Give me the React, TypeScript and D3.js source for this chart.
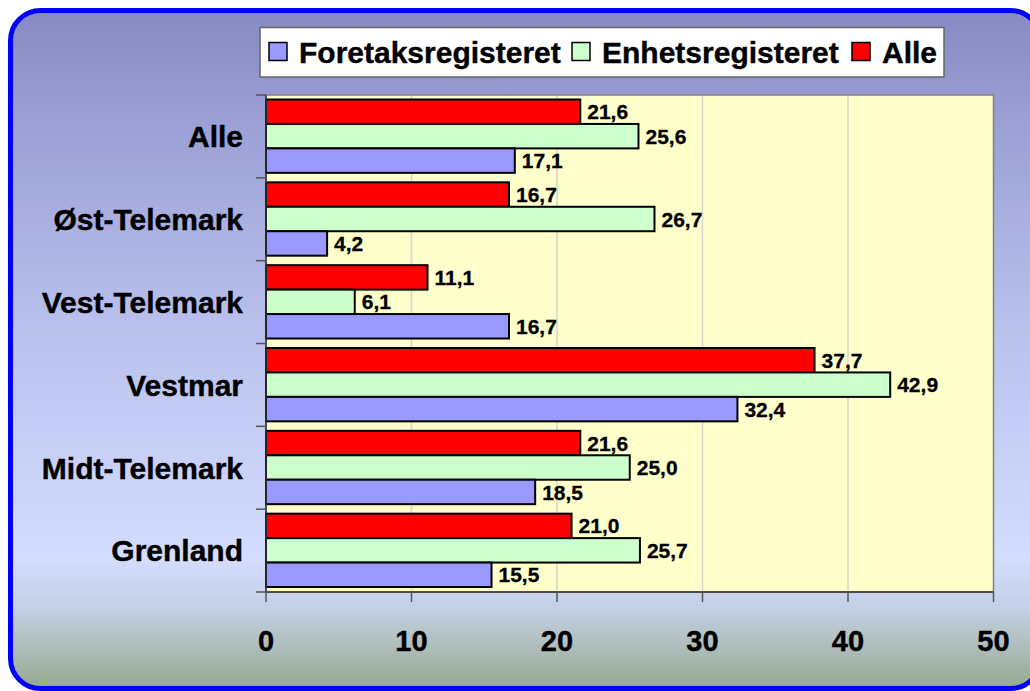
import React from "react";
import * as d3 from "d3";

const categories = ["Alle", "Øst-Telemark", "Vest-Telemark", "Vestmar", "Midt-Telemark", "Grenland"];
const seriesNames = ["Alle", "Enhetsregisteret", "Foretaksregisteret"];
const alleValues = [21.6, 16.7, 11.1, 37.7, 21.6, 21.0];
const enhetsValues = [25.6, 26.7, 6.1, 42.9, 25.0, 25.7];
const foretakValues = [17.1, 4.2, 16.7, 32.4, 18.5, 15.5];
const xTicks = [0, 10, 20, 30, 40, 50];
const legendItems = ["Foretaksregisteret", "Enhetsregisteret", "Alle"];

const colors: Record<string, string> = {
  Alle: "#ff0000",
  Enhetsregisteret: "#ccffcc",
  Foretaksregisteret: "#9999ff",
};

const valuesBySeries: Record<string, number[]> = {
  Alle: alleValues,
  Enhetsregisteret: enhetsValues,
  Foretaksregisteret: foretakValues,
};

const FONT = "'Liberation Sans', Arial, sans-serif";

export default function App() {
  const W = 1030, H = 691;
  const plot = { left: 266, right: 993.5, top: 95, bottom: 592 };
  const x = d3.scaleLinear().domain([0, 50]).range([plot.left, plot.right]);
  const y = d3.scaleBand<string>().domain(categories).range([plot.top, plot.bottom]).padding(0);
  const bw = y.bandwidth();
  const inner = d3.scaleBand<string>().domain(seriesNames).range([4.5, bw - 5]).padding(0);
  const fmt = (v: number) => v.toFixed(1).replace(".", ",");

  const legFont = 30;
  const legendX = [269, 572, 852];

  return (
    <svg width={W} height={H} style={{ position: "absolute", left: 0, top: 0 }} fontFamily={FONT}>
      <defs>
        <linearGradient id="bg" x1="0" y1="0" x2="0" y2="1">
          <stop offset="0" stopColor="#8789c2" />
          <stop offset="0.15" stopColor="#9a9ed4" />
          <stop offset="0.5" stopColor="#bcc4ee" />
          <stop offset="0.81" stopColor="#d4dcff" />
          <stop offset="0.88" stopColor="#c4d0e6" />
          <stop offset="0.94" stopColor="#aebdba" />
          <stop offset="1" stopColor="#96a88e" />
        </linearGradient>
      </defs>
      <rect x={0} y={0} width={W} height={H} fill="#ffffff" />
      <rect x={10.5} y={10.5} width={1030} height={678} rx={30} ry={30} fill="url(#bg)" stroke="#0000ff" strokeWidth={5} />

      {/* plot area */}
      <rect x={plot.left} y={plot.top} width={plot.right - plot.left} height={plot.bottom - plot.top} fill="#ffffcc" stroke="#808080" strokeWidth={1.5} />
      {xTicks.slice(1, -1).map((t) => (
        <line key={"g" + t} x1={x(t)} x2={x(t)} y1={plot.top + 1} y2={plot.bottom} stroke="#d6d6cc" strokeWidth={1.5} />
      ))}

      {/* bars */}
      {categories.map((c, i) => (
        <g key={c}>
          {seriesNames.map((s) => {
            const v = valuesBySeries[s][i];
            const y0 = (y(c) as number) + (inner(s) as number);
            const h = inner.bandwidth();
            return (
              <g key={s}>
                <rect x={x(0)} y={y0} width={x(v) - x(0)} height={h} fill={colors[s]} stroke="#000" strokeWidth={2} />
                <text x={x(v) + 7} y={y0 + h / 2} dy="0.36em" fontSize={21} fontWeight="bold" fill="#000" stroke="#000" strokeWidth={0.3}>
                  {fmt(v)}
                </text>
              </g>
            );
          })}
        </g>
      ))}

      {/* axes */}
      <line x1={plot.left} x2={plot.left} y1={plot.top} y2={plot.bottom} stroke="#333" strokeWidth={1.5} />
      <line x1={plot.left} x2={plot.right} y1={plot.bottom} y2={plot.bottom} stroke="#333" strokeWidth={1.5} />
      {[...categories.map((c) => y(c) as number), plot.bottom].map((yy, i) => (
        <line key={"yt" + i} x1={plot.left - 10} x2={plot.left} y1={yy} y2={yy} stroke="#555" strokeWidth={1.5} />
      ))}
      {xTicks.map((t) => (
        <line key={"xt" + t} x1={x(t)} x2={x(t)} y1={plot.bottom} y2={plot.bottom + 10} stroke="#555" strokeWidth={1.5} />
      ))}
      {xTicks.map((t) => (
        <text key={"xl" + t} x={x(t)} y={641} dy="0.36em" textAnchor="middle" fontSize={29} fontWeight="bold" fill="#000" stroke="#000" strokeWidth={0.4}>
          {t}
        </text>
      ))}
      {categories.map((c) => (
        <text key={"cl" + c} x={243} y={(y(c) as number) + bw / 2} dy="0.36em" textAnchor="end" fontSize={30} fontWeight="bold" fill="#000" stroke="#000" strokeWidth={0.4}>
          {c}
        </text>
      ))}

      {/* legend */}
      <rect x={260} y={27.5} width={684} height={49.5} fill="#ffffff" stroke="#666" strokeWidth={1.5} />
      {legendItems.map((s, i) => (
        <g key={"lg" + s}>
          <rect x={legendX[i]} y={42.5} width={18} height={18} fill={colors[s]} stroke="#000" strokeWidth={1.5} />
          <text x={legendX[i] + 30} y={52} dy="0.36em" fontSize={legFont} fontWeight="bold" fill="#000" stroke="#000" strokeWidth={0.4}>
            {s}
          </text>
        </g>
      ))}
    </svg>
  );
}
